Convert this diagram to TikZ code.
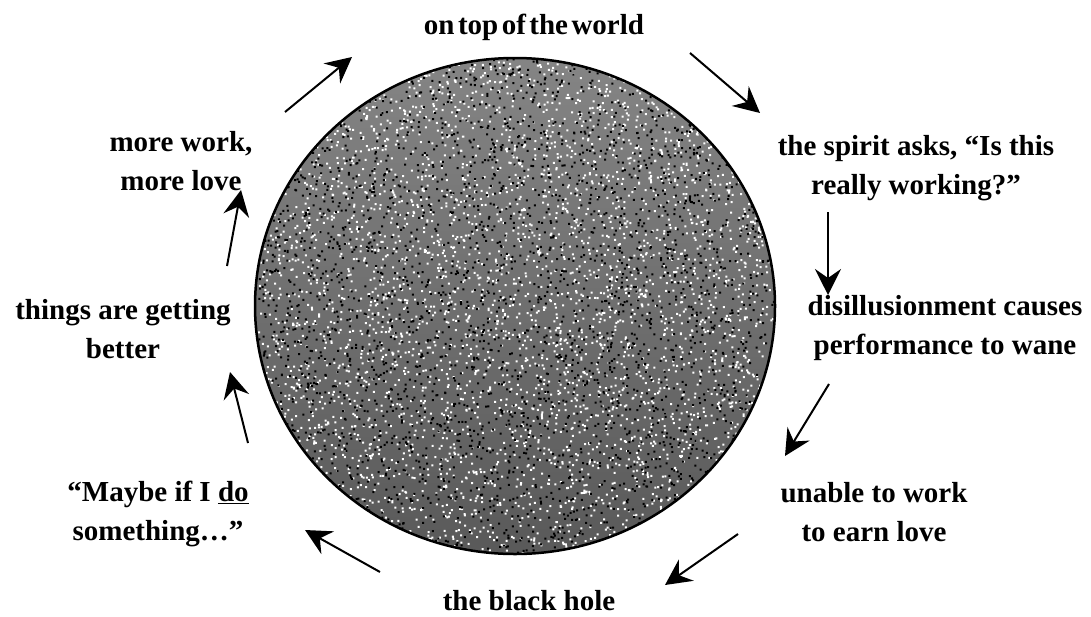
\documentclass[tikz,border=0pt]{standalone}
\usepackage{fontspec}
\setmainfont{Liberation Serif}
\usetikzlibrary{arrows.meta}
\begin{document}
\begin{tikzpicture}[x=1pt,y=-1pt,
  lbl/.style={font=\bfseries\fontsize{29}{39}\selectfont, align=center, inner sep=0pt},
  arr/.style={line width=2pt, -{Stealth[length=26pt,width=26pt,inset=9pt]}}]
\useasboundingbox (0,0) rectangle (1091,616);
\begin{scope}
\clip (515,306) ellipse [x radius=260, y radius=248];
\shade[top color=black!48, middle color=black!38, bottom color=black!65]
  (255,58) rectangle (775,554);
\pgfmathsetseed{7}
\fill[white] \foreach \i in {1,...,4500}{ ({515+260*rand},{306+248*rand}) rectangle ++(2,2) };
\fill[black] \foreach \i in {1,...,3500}{ ({515+260*rand},{306+248*rand}) rectangle ++(2,2) };
\end{scope}
\draw[line width=2.5pt] (515,306) ellipse [x radius=260, y radius=248];
\node[lbl] (top) at (534,27) {\spaceskip=0.12em on top of the world};
\node[lbl] (spirit) at (916,168) {the spirit asks, “Is this\\really working?”};
\node[lbl] (disill) at (945,328) {disillusionment causes\\performance to wane};
\node[lbl] (unable) at (874,512) {unable to work\\to earn love};
\node[lbl] (hole) at (529,601) {the black hole};
\node[lbl] (maybe) at (158,514) {“Maybe if I \underline{do}\\something…”};
\node[lbl] (things) at (123,329) {things are getting\\better};
\node[lbl] (more) at (181,161) {more work,\\more love};
\coordinate (a1s) at (285,112); \coordinate (a1e) at (352,57);
\coordinate (a2s) at (690,53);  \coordinate (a2e) at (760,113);
\coordinate (a3s) at (828,212); \coordinate (a3e) at (828,295);
\coordinate (a4s) at (829,384); \coordinate (a4e) at (785,456);
\coordinate (a5s) at (738,534); \coordinate (a5e) at (665,585);
\coordinate (a6s) at (380,572); \coordinate (a6e) at (305,530);
\coordinate (a7s) at (248,443); \coordinate (a7e) at (230,372);
\coordinate (a8s) at (227,266); \coordinate (a8e) at (241,190);
\foreach \i in {1,...,8} \draw[arr] (a\i s) -- (a\i e);
\end{tikzpicture}
\end{document}
